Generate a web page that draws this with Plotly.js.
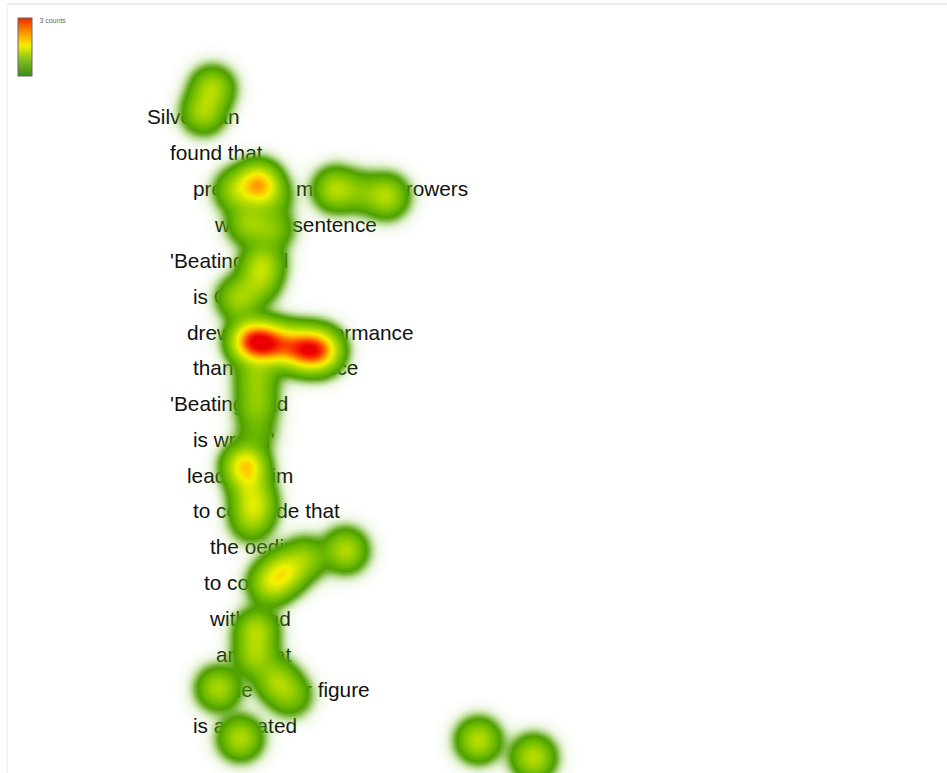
<!DOCTYPE html>
<html>
<head>
<meta charset="utf-8">
<script src="https://cdn.plot.ly/plotly-3.0.1.min.js"></script>
<style>html,body{margin:0;padding:0;background:#fff;}#chart{width:947px;height:773px;}</style>
</head>
<body>
<div id="chart"></div>
<script>
// Stimulus text lines (left edge x, centre y in screen pixels)
const lineText = [
  "Silverman", "found that", "presenting male dart throwers", "with the sentence",
  "'Beating Dad", "is OK'", "drew better performance", "than the sentence",
  "'Beating Dad", "is wrong'", "leading him", "to conclude that",
  "the oedipal wish", "to compete", "with Dad", "and that",
  "the father figure", "is activated"
];
const lineX = [147, 170, 193, 215, 170, 193, 187, 193, 170, 193, 187, 193, 210, 204, 210, 216, 224, 193];
const lineY = [119, 155, 191, 227, 263, 299, 335, 370, 406, 442, 478, 513, 549, 585, 621, 657, 692, 728];

// Fixations (screen pixel position, weight in counts)
const fixX = [212, 203, 258, 236, 272, 335, 360, 386, 248, 272, 262, 258, 238,
              250, 267, 285, 303, 320, 256, 256, 256, 245, 250, 254, 251,
              270, 285, 305, 345, 256, 255, 276, 290, 218, 240, 478, 533];
const fixY = [88, 112, 184, 190, 197, 189, 192, 196, 223, 229, 264, 283, 298,
              341, 343, 345, 349, 350, 379, 405, 432, 466, 486, 504, 521,
              583, 571, 558, 550, 630, 655, 680, 695, 688, 738, 740, 757];
const fixW = [0.8, 0.75, 1.75, 0.7, 0.35, 0.85, 0.4, 0.85, 0.65, 0.5, 0.8, 0.55, 0.7,
              2.1, 2.0, 1.1, 1.9, 1.9, 0.6, 0.55, 0.3, 1.55, 0.5, 0.85, 0.5,
              0.9, 1.05, 0.6, 0.85, 0.8, 0.7, 0.7, 0.5, 0.8, 0.85, 0.9, 0.9];
const maxCount = 3;
const legendLabel = "3 counts";

const W = 947, H = 773, SIGMA = 12.5, STEP = 3;
const gx = [], gy = [];
for (let x = 0; x <= W + STEP; x += STEP) gx.push(x);
for (let y = 0; y <= H + STEP; y += STEP) gy.push(y);
const z = gy.map(y => gx.map(x => {
  let s = 0;
  for (let k = 0; k < fixX.length; k++) {
    const dx = x - fixX[k], dy = y - fixY[k];
    const d2 = dx * dx + dy * dy;
    if (d2 < 4900) s += fixW[k] * Math.exp(-d2 / (2 * SIGMA * SIGMA));
  }
  return s;
}));

const heatScale = [
  [0, 'rgba(95,175,0,0)'],
  [0.01, 'rgba(95,175,0,0.12)'],
  [0.025, 'rgba(88,168,0,0.4)'],
  [0.045, 'rgba(80,160,0,0.75)'],
  [0.07, 'rgb(80,160,0)'],
  [0.13, 'rgb(108,186,0)'],
  [0.22, 'rgb(150,206,0)'],
  [0.32, 'rgb(192,224,0)'],
  [0.44, 'rgb(242,242,0)'],
  [0.58, 'rgb(255,195,0)'],
  [0.72, 'rgb(255,120,0)'],
  [0.86, 'rgb(250,50,0)'],
  [1, 'rgb(235,0,0)']
];
const barScale = [[0, '#3a8a1c'], [0.3, '#8cc41c'], [0.52, '#f2f000'], [0.72, '#ffa000'], [1, '#f02a00']];

const traces = [
  {
    type: 'scatter', mode: 'text', x: lineX, y: lineY, text: lineText,
    textposition: 'middle right',
    textfont: {family: 'Liberation Sans, Arial, sans-serif', size: 20.8, color: '#111111'},
    hoverinfo: 'skip', showlegend: false, xaxis: 'x', yaxis: 'y'
  },
  {
    type: 'scatter', mode: 'markers', x: [-100], y: [-100],
    marker: {color: [0], cmin: 0, cmax: maxCount, colorscale: barScale, showscale: true,
      colorbar: {
        x: 18 / W, xanchor: 'left', y: 1 - 18 / H, yanchor: 'top',
        len: 58, lenmode: 'pixels', thickness: 14, thicknessmode: 'pixels',
        xpad: 0, ypad: 0, outlinewidth: 1, outlinecolor: '#666',
        tickvals: [maxCount * 0.95], ticktext: [legendLabel], ticks: 'outside',
        ticklen: 6, tickcolor: 'rgba(0,0,0,0)',
        tickfont: {family: 'Liberation Sans, Arial, sans-serif', size: 7, color: '#666'}
      }},
    hoverinfo: 'skip', showlegend: false, xaxis: 'x', yaxis: 'y'
  },
  {
    type: 'heatmap', x: gx, y: gy, z: z, zmin: 0, zmax: maxCount, zsmooth: 'best',
    colorscale: heatScale, showscale: false, hoverinfo: 'skip',
    xaxis: 'x2', yaxis: 'y2'
  }
];

const ax = {range: [0, W], visible: false, showgrid: false, zeroline: false, fixedrange: true};
const ay = {range: [H, 0], visible: false, showgrid: false, zeroline: false, fixedrange: true};
const layout = {
  width: W, height: H,
  margin: {l: 0, r: 0, t: 0, b: 0, pad: 0, autoexpand: false},
  paper_bgcolor: '#ffffff', plot_bgcolor: 'rgba(0,0,0,0)',
  showlegend: false,
  xaxis: Object.assign({}, ax),
  yaxis: Object.assign({}, ay),
  xaxis2: Object.assign({overlaying: 'x'}, ax),
  yaxis2: Object.assign({overlaying: 'y'}, ay),
  shapes: [
    {type: 'line', xref: 'paper', yref: 'paper', x0: 7 / W, x1: 1, y0: 1 - 4 / H, y1: 1 - 4 / H,
     line: {color: '#d6d6d6', width: 1}, layer: 'above'},
    {type: 'line', xref: 'paper', yref: 'paper', x0: 7 / W, x1: 7 / W, y0: 0, y1: 1 - 4 / H,
     line: {color: '#ececec', width: 1}, layer: 'above'}
  ]
};
Plotly.newPlot('chart', traces, layout, {displayModeBar: false, staticPlot: true});
</script>
</body>
</html>
